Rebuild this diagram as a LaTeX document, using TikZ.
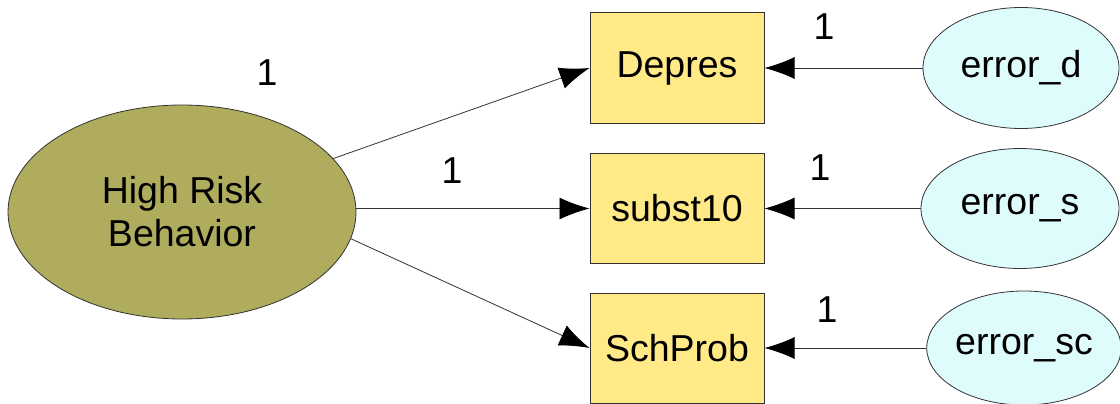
\documentclass[tikz,border=0pt]{standalone}
\usepackage{fontspec}
\setmainfont{Liberation Sans}
\usetikzlibrary{shapes.geometric,arrows.meta}
\definecolor{olivefill}{RGB}{176,172,94}
\definecolor{boxfill}{RGB}{255,234,135}
\definecolor{errfill}{RGB}{223,252,252}
\definecolor{edgegray}{RGB}{50,50,50}
\tikzset{
  lbl/.style={font=\fontsize{37.5}{43}\selectfont, text=black},
  latent/.style={ellipse, draw=edgegray, line width=0.8pt, fill=olivefill, inner sep=0pt, align=center, lbl},
  obsbox/.style={rectangle, draw=edgegray, line width=1pt, fill=boxfill, inner sep=0pt, minimum width=174pt, minimum height=110pt, lbl},
  errell/.style={ellipse, draw=edgegray, line width=0.8pt, fill=errfill, inner sep=0pt, lbl},
  conn/.style={draw=edgegray, line width=0.8pt, -{Latex[length=30pt,width=22pt,black]}},
  one/.style={lbl, inner sep=0pt}
}
\begin{document}
\begin{tikzpicture}[x=1pt,y=-1pt]
\useasboundingbox (0,0) rectangle (1120,404);
\node[latent, minimum width=348pt, minimum height=214pt] (hrb) at (182,212) {High Risk\\Behavior};
\node[obsbox] (dep) at (677,68) {Depres};
\node[obsbox] (sub) at (677,208.5) {subst10};
\node[obsbox] (sch) at (677,348) {SchProb};
\node[errell, minimum width=196pt, minimum height=121pt] (ed) at (1021,68) {error\_d};
\node[errell, minimum width=198pt, minimum height=120pt] (es) at (1020,208.5) {error\_s};
\node[errell, minimum width=184pt, minimum height=114pt] (esc) at (1024,348) {error\_sc};
\draw[conn] (hrb) -- (dep.west);
\draw[conn] (hrb.east |- sub.west) -- (sub.west);
\draw[conn] (hrb.-9.3) -- (sch.west);
\draw[conn] (ed) -- (dep);
\draw[conn] (es) -- (sub);
\draw[conn] (esc) -- (sch);
\node[one] (l1) at (267,73) {1};
\node[one] (l2) at (452,171) {1};
\node[one] (l3) at (824,27) {1};
\node[one] (l4) at (820,168) {1};
\node[one] (l5) at (827,310) {1};
\end{tikzpicture}
\end{document}
